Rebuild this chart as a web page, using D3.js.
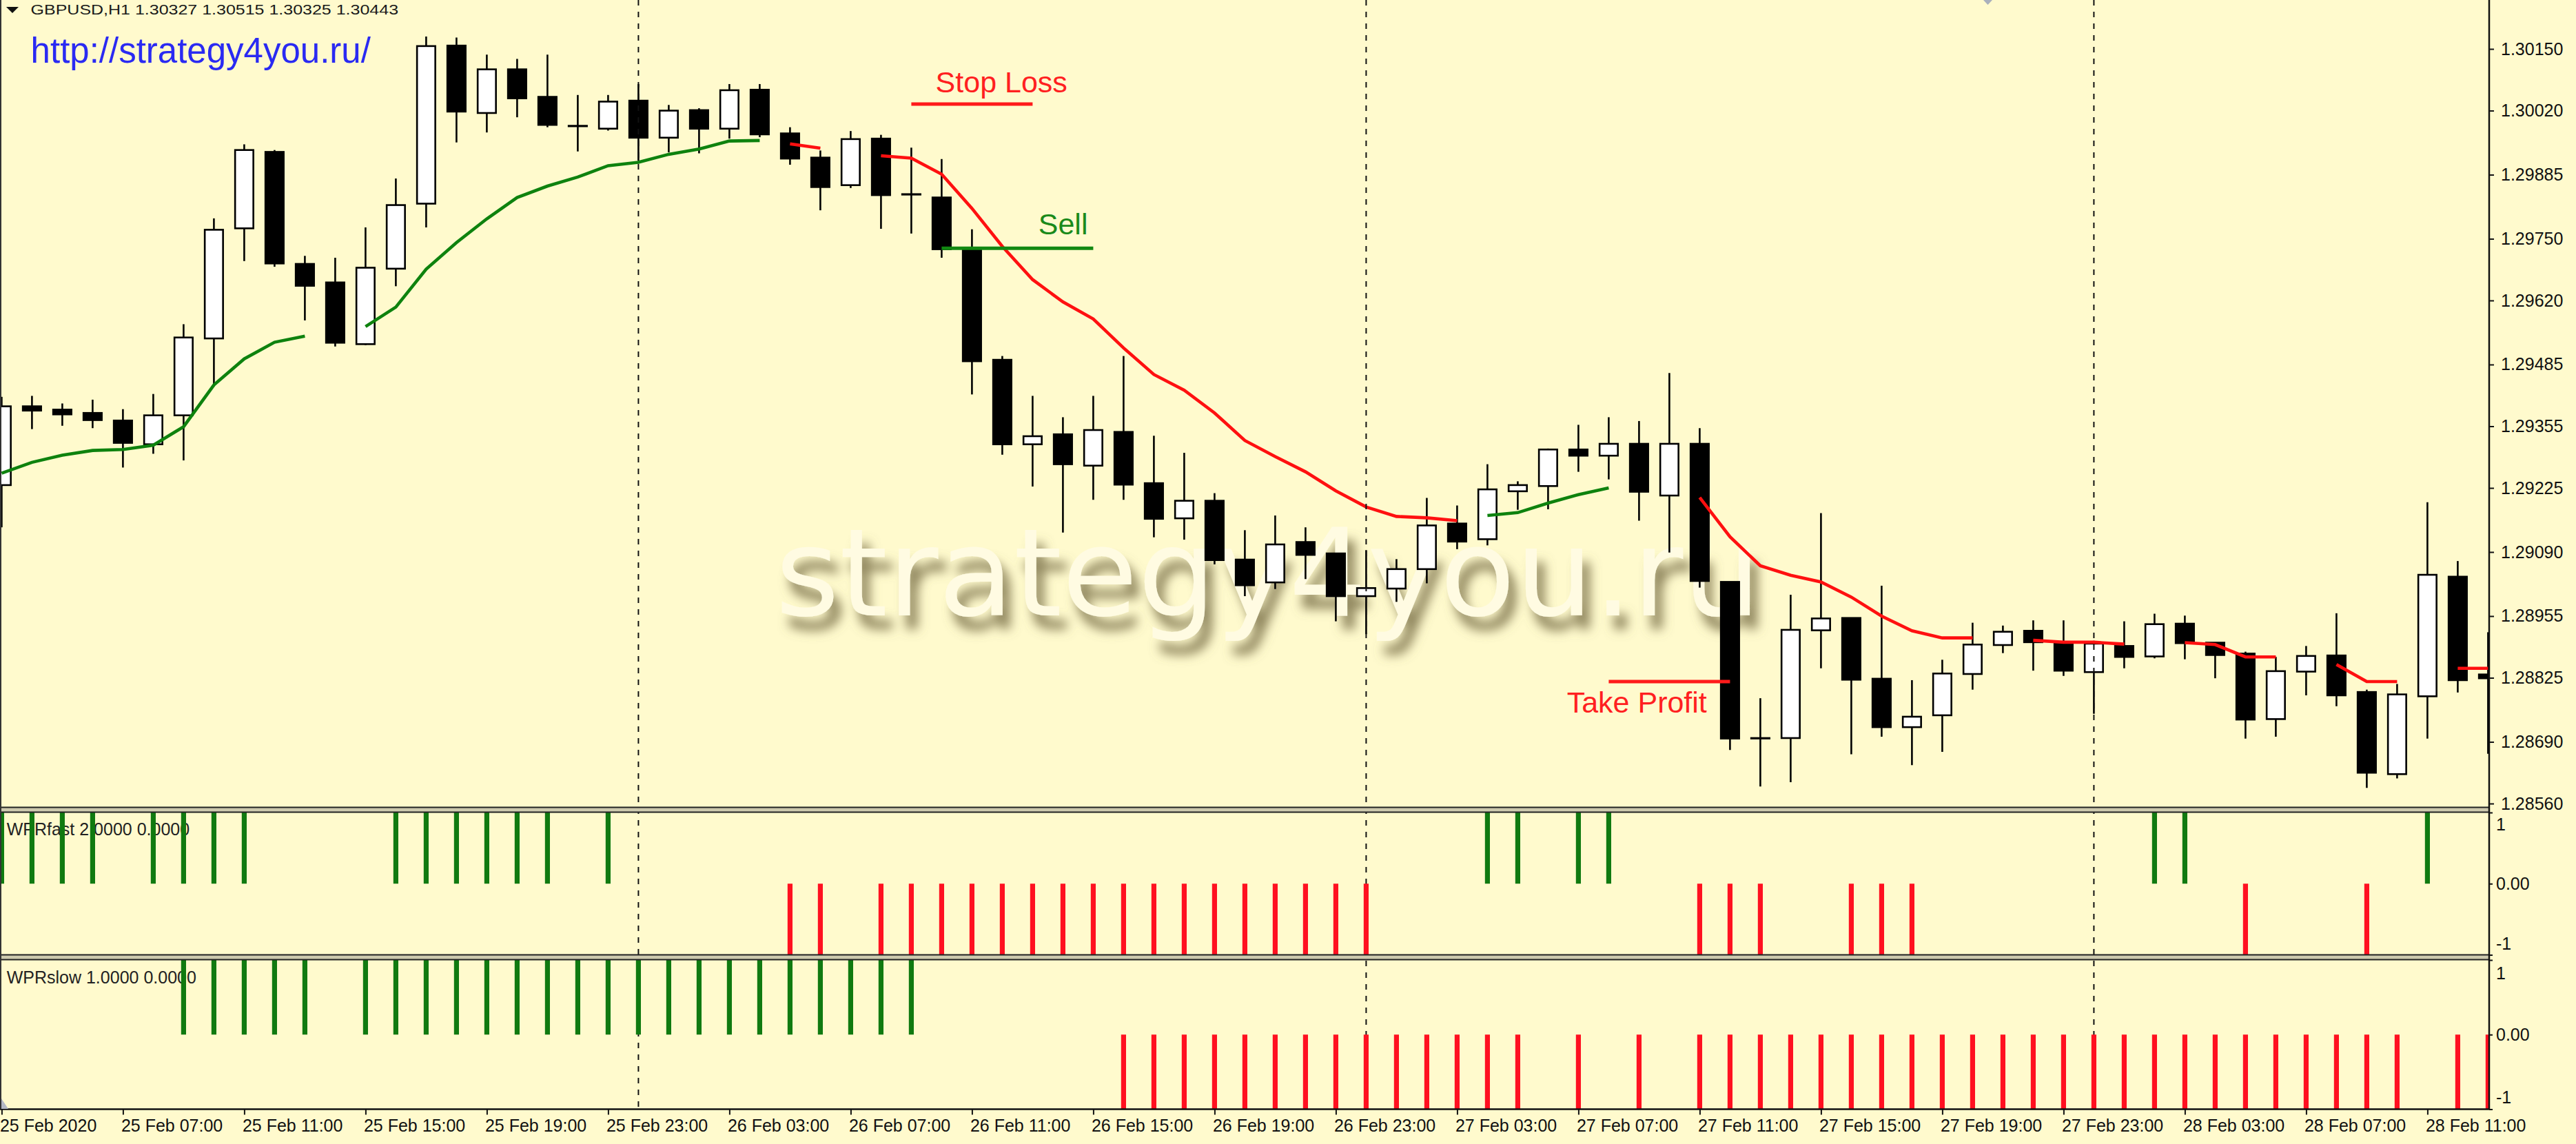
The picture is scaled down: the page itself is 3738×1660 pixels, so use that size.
<!DOCTYPE html>
<html><head><meta charset="utf-8">
<script src="https://cdn.jsdelivr.net/npm/d3@7"></script>
<style>
html,body{margin:0;padding:0;background:#fffacd;overflow:hidden;}
svg{display:block;}
text{font-family:"Liberation Sans",Arial,sans-serif;}
</style></head><body>
<svg id="c" width="3738" height="1660"></svg>
<script>
// ---------------- DATA ----------------
const headerText = "GBPUSD,H1  1.30327 1.30515 1.30325 1.30443";
const urlText = "http://strategy4you.ru/";
const watermarkText = "strategy4you.ru";
const fastLabel = "WPRfast 2.0000 0.0000";
const slowLabel = "WPRslow 1.0000 0.0000";

// hourly bars, 25 Feb 2020 03:00 .. 28 Feb 2020 13:00
const barTimes = d3.timeHour.range(new Date(2020,1,25,3), new Date(2020,1,28,14));

const open  = [1.29231,1.29397,1.29390,1.29383,1.29367,1.29317,1.29378,1.29540,1.29772,1.29933,
1.29697,1.29658,1.29528,1.29687,1.29824,1.30157,1.30015,1.30107,1.30049,1.29988,
1.29982,1.30041,1.29963,1.30021,1.29982,1.30064,1.29972,1.29921,1.29863,1.29961,
1.29844,1.29837,1.29728,1.29495,1.29317,1.29338,1.29272,1.29343,1.29235,1.29161,
1.29198,1.29074,1.29026,1.29111,1.29087,1.28997,1.29013,1.29054,1.29150,1.29117,
1.29218,1.29229,1.29306,1.29293,1.29318,1.29209,1.29318,1.29027,1.28698,1.28698,
1.28925,1.28951,1.28823,1.28721,1.28746,1.28833,1.28894,1.28924,1.28897,1.28837,
1.28892,1.28870,1.28939,1.28899,1.28876,1.28738,1.28838,1.28872,1.28795,1.28622,
1.28786,1.29038,1.28832];
const high  = [1.29417,1.29419,1.29403,1.29411,1.29391,1.29423,1.29570,1.29793,1.29949,1.29937,
1.29714,1.29710,1.29774,1.29877,1.30176,1.30174,1.30138,1.30129,1.30138,1.30053,
1.30053,1.30076,1.30032,1.30025,1.30076,1.30076,1.29985,1.29936,1.29977,1.29969,
1.29942,1.29918,1.29770,1.29503,1.29419,1.29374,1.29419,1.29503,1.29335,1.29299,
1.29214,1.29136,1.29167,1.29142,1.29087,1.29094,1.29075,1.29204,1.29188,1.29275,
1.29239,1.29308,1.29358,1.29374,1.29366,1.29467,1.29351,1.29027,1.28782,1.29000,
1.29172,1.28951,1.29019,1.28820,1.28863,1.28941,1.28935,1.28946,1.28946,1.28903,
1.28944,1.28960,1.28956,1.28899,1.28880,1.28869,1.28892,1.28961,1.28800,1.28812,
1.29195,1.29071,1.28921];
const low   = [1.29142,1.29349,1.29356,1.29351,1.29268,1.29297,1.29283,1.29439,1.29703,1.29691,
1.29578,1.29523,1.29526,1.29650,1.29774,1.29953,1.29974,1.30006,1.29985,1.29934,
1.29978,1.29914,1.29932,1.29930,1.29961,1.29964,1.29906,1.29810,1.29857,1.29771,
1.29761,1.29710,1.29422,1.29295,1.29228,1.29131,1.29200,1.29200,1.29121,1.29116,
1.29064,1.28997,1.29012,1.29033,1.28944,1.28917,1.28985,1.29024,1.29096,1.29104,
1.29179,1.29180,1.29259,1.29243,1.29156,1.29089,1.29015,1.28673,1.28596,1.28605,
1.28845,1.28664,1.28701,1.28641,1.28669,1.28800,1.28877,1.28840,1.28829,1.28749,
1.28845,1.28866,1.28864,1.28824,1.28697,1.28701,1.28788,1.28765,1.28593,1.28613,
1.28697,1.28794,1.28665];
const close = [1.29397,1.29388,1.29380,1.29368,1.29320,1.29378,1.29542,1.29769,1.29937,1.29698,
1.29651,1.29531,1.29689,1.29821,1.30156,1.30018,1.30107,1.30046,1.29990,1.29988,
1.30039,1.29963,1.30020,1.29982,1.30063,1.29970,1.29919,1.29859,1.29960,1.29842,
1.29844,1.29728,1.29492,1.29317,1.29334,1.29275,1.29347,1.29232,1.29160,1.29198,
1.29073,1.29020,1.29106,1.29084,1.28997,1.29014,1.29054,1.29146,1.29112,1.29222,
1.29231,1.29306,1.29293,1.29318,1.29217,1.29318,1.29029,1.28697,1.28698,1.28926,
1.28950,1.28821,1.28721,1.28743,1.28834,1.28895,1.28922,1.28900,1.28840,1.28897,
1.28869,1.28938,1.28898,1.28873,1.28737,1.28839,1.28871,1.28788,1.28625,1.28790,
1.29042,1.28820,1.28824];

// colored moving average: rising part (green) and falling part (red)
const maUp = [1.29256,1.29279,1.29294,1.29304,1.29306,1.29315,1.29354,1.29442,1.29497,1.29532,
1.29545,null,1.29565,1.29606,1.29686,1.29742,1.29792,1.29837,1.29861,1.29880,
1.29904,1.29911,1.29928,1.29939,1.29956,1.29957,null,null,null,null,
null,null,null,null,null,null,null,null,null,null,
null,null,null,null,null,null,null,null,null,1.29167,
1.29173,1.29193,1.29211,1.29225,null,null,null,null,null,null,
null,null,null,null,null,null,null,null,null,null,
null,null,null,null,null,null,null,null,null,null,
null,null,null];
const maDown = [null,null,null,null,null,null,null,null,null,null,
null,null,null,null,null,null,null,null,null,null,
null,null,null,null,null,null,1.29950,1.29941,null,1.29925,
1.29920,1.29886,1.29814,1.29734,1.29664,1.29617,1.29581,1.29520,1.29464,1.29431,
1.29383,1.29325,1.29291,1.29259,1.29219,1.29185,1.29165,1.29162,1.29156,null,
null,null,null,null,null,null,1.29205,1.29122,1.29061,1.29041,
1.29027,1.28995,1.28955,1.28924,1.28909,1.28909,null,1.28904,1.28900,1.28900,
1.28896,null,1.28899,1.28895,1.28869,1.28869,null,1.28853,1.28817,1.28817,
null,1.28845,1.28845];

// WPR signal histograms (+1 green, -1 red, 0 none)
const wprFast = [1,1,1,1,0,1,1,1,1,0, 0,0,0,1,1,1,1,1,1,0, 1,0,0,0,0,0,-1,-1,0,-1,
-1,-1,-1,-1,-1,-1,-1,-1,-1,-1, -1,-1,-1,-1,-1,-1,0,0,0,1, 1,0,1,1,0,0,-1,-1,-1,0,
0,-1,-1,-1,0,0,0,0,0,0, 0,1,1,0,-1,0,0,0,-1,0, 1,0,0];
const wprSlow = [0,0,0,0,0,0,1,1,1,1, 1,0,1,1,1,1,1,1,1,1, 1,1,1,1,1,1,1,1,1,1,
1,0,0,0,0,0,0,-1,-1,-1, -1,-1,-1,-1,-1,-1,-1,-1,-1,-1, -1,0,-1,0,-1,0,-1,-1,-1,-1,
-1,-1,-1,-1,-1,-1,-1,-1,-1,-1, -1,-1,-1,-1,-1,-1,-1,-1,-1,-1, 0,-1,-1];

const priceTicks = [1.30150,1.30020,1.29885,1.29750,1.29620,1.29485,1.29355,1.29225,1.29090,1.28955,1.28825,1.28690,1.28560];
const timeTickLabels = ["25 Feb 2020","25 Feb 07:00","25 Feb 11:00","25 Feb 15:00","25 Feb 19:00","25 Feb 23:00",
"26 Feb 03:00","26 Feb 07:00","26 Feb 11:00","26 Feb 15:00","26 Feb 19:00","26 Feb 23:00",
"27 Feb 03:00","27 Feb 07:00","27 Feb 11:00","27 Feb 15:00","27 Feb 19:00","27 Feb 23:00",
"28 Feb 03:00","28 Feb 07:00","28 Feb 11:00"];
const wprTicks = [1, 0, -1];

// trade annotations (bar index span, price level)
const levelLines = [
  {name:"Stop Loss", from:30, to:34, price:1.30034, color:"#ff1a1a"},
  {name:"Sell", from:31, to:36, price:1.29730, color:"#118811"},
  {name:"Take Profit", from:53, to:57, price:1.28817, color:"#ff1a1a"}
];
const levelTexts = [
  {text:"Stop Loss", bar:30.8, price:1.30059, color:"#ff2020"},
  {text:"Sell", bar:34.19, price:1.29760, color:"#1a8a1a"},
  {text:"Take Profit", bar:51.62, price:1.28751, color:"#ff2020"}
];

// ---------------- LAYOUT ----------------
const W = 3738, H = 1660;
const axisX = 3612;
const mainBottom = 1171.5, fastTop = 1178.5, fastBottom = 1385.5, slowTop = 1392.5, slowBottom = 1609.5;

const svg = d3.select("#c");
svg.append("rect").attr("width",W).attr("height",H).attr("fill","#fffacd");

const defs = svg.append("defs");
const f = defs.append("filter").attr("id","wm").attr("x","-10%").attr("y","-40%").attr("width","125%").attr("height","190%");
f.append("feGaussianBlur").attr("in","SourceAlpha").attr("stdDeviation",8).attr("result","b");
f.append("feOffset").attr("in","b").attr("dx",11).attr("dy",20).attr("result","o");
f.append("feFlood").attr("flood-color","#7a7048").attr("flood-opacity",0.85);
f.append("feComposite").attr("in2","o").attr("operator","in").attr("result","s");
const fm = f.append("feMerge"); fm.append("feMergeNode").attr("in","s"); fm.append("feMergeNode").attr("in","SourceGraphic");

defs.append("clipPath").attr("id","cpMain").append("rect").attr("x",0).attr("y",0).attr("width",axisX).attr("height",mainBottom);
defs.append("clipPath").attr("id","cpFast").append("rect").attr("x",0).attr("y",fastTop).attr("width",axisX).attr("height",fastBottom-fastTop);
defs.append("clipPath").attr("id","cpSlow").append("rect").attr("x",0).attr("y",slowTop).attr("width",axisX).attr("height",slowBottom-slowTop);

// scales
const x = d3.scalePoint().domain(barTimes).range([2.4, 2.4 + 44*(barTimes.length-1)]);
const xi = d3.scaleLinear().domain([0, barTimes.length-1]).range([2.4, 2.4 + 44*(barTimes.length-1)]);
const y = d3.scaleLinear().domain([1.30150, 1.28560]).range([71, 1166]);
const yF = d3.scaleLinear().domain([-1, 1]).range([fastBottom, fastTop+0.5]);
const yS = d3.scaleLinear().domain([-1, 1]).range([slowBottom, slowTop+0.5]);

const bars = barTimes.map((t,i)=>({t,i,o:open[i],h:high[i],l:low[i],c:close[i]}));

// watermark
const main = svg.append("g").attr("clip-path","url(#cpMain)");
main.append("text").attr("transform","translate(1125,893) scale(1.015,1)")
  .attr("font-family","'DejaVu Sans',sans-serif").style("font-family","'DejaVu Sans',sans-serif")
  .attr("font-size",176).attr("fill","#fffbe2").attr("filter","url(#wm)").text(watermarkText);

// period separators (day starts)
const dayStarts = barTimes.filter(t=>t.getHours()===0);
svg.append("g").selectAll("line").data(dayStarts).join("line")
  .attr("x1",d=>x(d)).attr("x2",d=>x(d)).attr("y1",0).attr("y2",slowBottom)
  .attr("stroke","#111").attr("stroke-width",2).attr("stroke-dasharray","8,9");

// header and url
svg.append("path").attr("d","M9,10 L27,10 L18,19 Z").attr("fill","#111");
svg.append("text").attr("transform","translate(44.6,20.7) scale(1,0.8)").attr("font-size",25).attr("fill","#1a1a1a").text(headerText);
svg.append("text").attr("x",44.6).attr("y",90.7).attr("font-size",51).attr("fill","#2a2af2").text(urlText);

// candles
const cg = main.append("g");
cg.selectAll("line.w").data(bars).join("line").attr("class","w")
  .attr("x1",d=>x(d.t)).attr("x2",d=>x(d.t)).attr("y1",d=>y(d.h)).attr("y2",d=>y(d.l))
  .attr("stroke","#000").attr("stroke-width",2.6);
cg.selectAll("rect.b").data(bars).join("rect").attr("class","b")
  .attr("x",d=>x(d.t)-13.25).attr("width",26.5)
  .attr("y",d=>y(Math.max(d.o,d.c))).attr("height",d=>Math.max(0.6,Math.abs(y(d.o)-y(d.c))))
  .attr("fill",d=>d.c>d.o?"#ffffff":"#000000").attr("stroke","#000").attr("stroke-width",2.6);

// moving average
const maLine = d3.line().defined(d=>d.v!=null).x(d=>x(d.t)).y(d=>y(d.v));
main.append("path").datum(barTimes.map((t,i)=>({t,v:maUp[i]}))).attr("d",maLine)
  .attr("fill","none").attr("stroke","#0e820e").attr("stroke-width",4.6);
main.append("path").datum(barTimes.map((t,i)=>({t,v:maDown[i]}))).attr("d",maLine)
  .attr("fill","none").attr("stroke","#ff1010").attr("stroke-width",4.6);

// trade levels
main.selectAll("line.lv").data(levelLines).join("line").attr("class","lv")
  .attr("x1",d=>xi(d.from)).attr("x2",d=>xi(d.to)).attr("y1",d=>y(d.price)).attr("y2",d=>y(d.price))
  .attr("stroke",d=>d.color).attr("stroke-width",5);
main.selectAll("text.lt").data(levelTexts).join("text").attr("class","lt")
  .attr("x",d=>xi(d.bar)).attr("y",d=>y(d.price)).attr("font-size",43).attr("fill",d=>d.color).text(d=>d.text);

// chart shift marker
svg.append("path").attr("d","M2878,0 L2891,0 L2884.5,7 Z").attr("fill","#aab0bc");

// indicator windows
svg.append("text").attr("x",9.7).attr("y",1212).attr("font-size",25).attr("fill","#222").text(fastLabel);
svg.append("text").attr("x",9.7).attr("y",1427).attr("font-size",25).attr("fill","#222").text(slowLabel);

const fg = svg.append("g").attr("clip-path","url(#cpFast)");
fg.selectAll("rect").data(bars.filter(d=>wprFast[d.i]!==0)).join("rect")
  .attr("x",d=>x(d.t)-3.6).attr("width",7.2)
  .attr("y",d=>Math.min(yF(0),yF(wprFast[d.i]))).attr("height",d=>Math.abs(yF(wprFast[d.i])-yF(0)))
  .attr("fill",d=>wprFast[d.i]>0?"#107a10":"#ff1020");
const sg = svg.append("g").attr("clip-path","url(#cpSlow)");
sg.selectAll("rect").data(bars.filter(d=>wprSlow[d.i]!==0)).join("rect")
  .attr("x",d=>x(d.t)-3.6).attr("width",7.2)
  .attr("y",d=>Math.min(yS(0),yS(wprSlow[d.i]))).attr("height",d=>Math.abs(yS(wprSlow[d.i])-yS(0)))
  .attr("fill",d=>wprSlow[d.i]>0?"#107a10":"#ff1020");

// separators between windows
[[mainBottom,fastTop],[fastBottom,slowTop]].forEach(([a,b])=>{
  svg.append("rect").attr("x",0).attr("y",a).attr("width",axisX).attr("height",b-a).attr("fill","#cdc9ae");
  svg.append("line").attr("x1",0).attr("x2",axisX).attr("y1",a).attr("y2",a).attr("stroke","#222").attr("stroke-width",2);
  svg.append("line").attr("x1",0).attr("x2",axisX).attr("y1",b).attr("y2",b).attr("stroke","#222").attr("stroke-width",2);
});
svg.append("line").attr("x1",0).attr("x2",axisX+1).attr("y1",slowBottom).attr("y2",slowBottom).attr("stroke","#111").attr("stroke-width",2.5);
svg.append("line").attr("x1",axisX).attr("x2",axisX).attr("y1",0).attr("y2",slowBottom).attr("stroke","#111").attr("stroke-width",2.5);
svg.append("line").attr("x1",1).attr("x2",1).attr("y1",0).attr("y2",slowBottom).attr("stroke","#333").attr("stroke-width",2);
svg.append("path").attr("d","M2,1609 L2,1594 L12,1609 Z").attr("fill","#b4b8c4");

// price axis
const pa = svg.append("g").attr("transform",`translate(${axisX},0)`)
  .call(d3.axisRight(y).tickValues(priceTicks).tickSize(7).tickPadding(10).tickFormat(d3.format(".5f")));
pa.select(".domain").remove();
pa.selectAll("line").attr("stroke","#111").attr("stroke-width",2);
pa.selectAll("text").attr("font-size",25).attr("fill","#111").style("font-family","'Liberation Sans',Arial,sans-serif");

function wprAxis(scale, dyTop, dyBot){
  const g = svg.append("g").attr("transform",`translate(${axisX},0)`)
    .call(d3.axisRight(scale).tickValues(wprTicks).tickSize(5).tickPadding(5).tickFormat(d=>d===0?"0.00":String(d)));
  g.select(".domain").remove();
  g.selectAll("line").attr("stroke","#111").attr("stroke-width",2);
  g.selectAll("text").attr("font-size",25).attr("fill","#111").style("font-family","'Liberation Sans',Arial,sans-serif")
    .attr("y",d=>d===1?dyTop:(d===-1?dyBot:0));
}
wprAxis(yF, 17, -16);
wprAxis(yS, 19, -17);

// time axis
const tickTimes = barTimes.filter((t,i)=>i%4===0);
const ta = svg.append("g").attr("transform",`translate(0,${slowBottom})`)
  .call(d3.axisBottom(x).tickValues(tickTimes).tickSize(8).tickFormat((d,i)=>timeTickLabels[i]));
ta.select(".domain").remove();
ta.selectAll("line").attr("stroke","#111").attr("stroke-width",2);
ta.selectAll("text").attr("font-size",25).attr("fill","#111").style("font-family","'Liberation Sans',Arial,sans-serif")
  .attr("text-anchor","start").attr("x",-3).attr("y",32.5).attr("dy",0);
</script>
</body></html>
